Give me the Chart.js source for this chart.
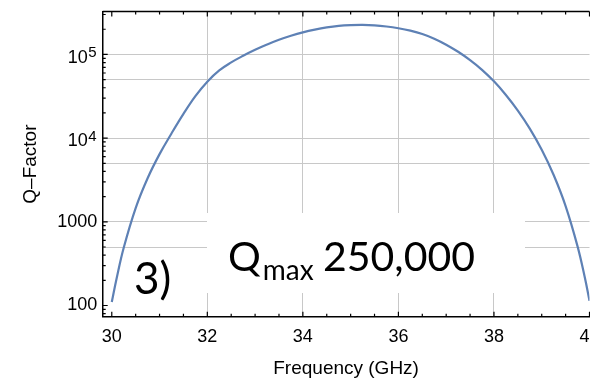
<!DOCTYPE html>
<html>
<head>
<meta charset="utf-8">
<script src="https://cdn.jsdelivr.net/npm/chart.js@4"></script>
<style>
  html, body { margin: 0; padding: 0; background: #fff; }
</style>
</head>
<body>
<canvas id="qChart" width="590" height="383"></canvas>
<script>
// Q-factor vs frequency
const freqs = [30.0, 30.1, 30.25, 30.5, 30.75, 31.0, 31.25, 31.5, 31.75, 32.0,
  32.25, 32.5, 32.75, 33.0, 33.25, 33.5, 33.75, 34.0, 34.25, 34.5, 34.75, 35.0, 35.25,
  35.5, 35.75, 36.0, 36.25, 36.5, 36.75, 37.0, 37.25, 37.5, 37.75, 38.0, 38.25, 38.5,
  38.75, 39.0, 39.25, 39.5, 39.75, 39.9, 40.0];
const qValues = [110, 209, 490, 1462, 3319, 6442, 11376, 19500, 31800, 47315,
  64500, 80350, 96400, 113500, 131200, 149600, 167100, 183700, 198200, 210400, 219300, 223900, 225400,
  222800, 215800, 205600, 192300, 175400, 154200, 130900, 107600, 85500, 65500, 47750, 32810, 21330,
  13000, 7261, 3622, 1542, 509, 219, 114];

// axis ticks / labels
const xTicks = [30, 32, 34, 36, 38, 40];
const xGridAt = [32, 34, 36, 38];
const yTicks = [100, 500, 1000, 5000, 10000, 50000, 100000];
const yTickLabels = ['100', '', '1000', '', '', '', ''];
const yPowerTicks = [10000, 100000];
const yPowerExps = ['4', '5'];
const yGridAt = [500, 1000, 5000, 10000, 50000, 100000];

const lineColor = '#5E81B5';
const gridColor = '#c8c8c8';

// inward tick marks on left, bottom and top frame, plus 10^n labels
const frameTicks = {
  id: 'frameTicks',
  afterDraw(chart) {
    const { ctx, chartArea: a, scales: { x, y } } = chart;
    ctx.save();
    ctx.strokeStyle = '#000';
    ctx.lineWidth = 1.5;
    ctx.beginPath();
    ctx.moveTo(a.left, a.top);
    ctx.lineTo(a.right, a.top);
    ctx.stroke();
    ctx.lineWidth = 1.2;
    ctx.beginPath();
    for (let v = 30; v <= 40; v += 0.5) {
      const px = x.getPixelForValue(v);
      const len = v % 2 === 0 ? 5 : 3;
      ctx.moveTo(px, a.bottom);
      ctx.lineTo(px, a.bottom - len);
      ctx.moveTo(px, a.top);
      ctx.lineTo(px, a.top + len);
    }
    for (let d = 10; d <= 1e5; d *= 10) {
      for (let k = 1; k <= 9; k++) {
        const v = d * k;
        if (v < y.min || v > y.max) continue;
        const py = y.getPixelForValue(v);
        const len = k === 1 ? 5 : 3;
        ctx.moveTo(a.left, py);
        ctx.lineTo(a.left + len, py);
      }
    }
    ctx.stroke();

    // 10^4, 10^5 labels with real superscripts
    ctx.fillStyle = '#000';
    ctx.textAlign = 'right';
    ctx.textBaseline = 'alphabetic';
    yPowerTicks.forEach((v, i) => {
      const py = y.getPixelForValue(v);
      const right = a.left - 6;
      ctx.font = '15px "Liberation Sans"';
      const ew = ctx.measureText(yPowerExps[i]).width;
      ctx.fillText(yPowerExps[i], right, py + 2.8);
      ctx.font = '18px "Liberation Sans"';
      ctx.fillText('10', right - ew - 0.5, py + 8.2);
    });
    ctx.restore();
  }
};

// white label box with annotation text
const labelBox = {
  id: 'labelBox',
  beforeDatasetsDraw(chart) {
    const { ctx } = chart;
    ctx.save();
    ctx.fillStyle = '#fff';
    ctx.fillRect(207, 213, 318, 80);
    ctx.fillStyle = '#000';
    ctx.textBaseline = 'alphabetic';
    ctx.font = '41px Lato';
    ctx.fillText('Q', 228, 271);
    const qw = ctx.measureText('Q').width;
    ctx.font = '28px Lato';
    ctx.fillText('max', 228 + qw + 2, 280);
    ctx.font = '41px Lato';
    ctx.fillText('250,000', 323, 271);
    ctx.font = '44px Lato';
    ctx.fillText('3)', 134, 294);
    ctx.restore();
  }
};

new Chart(document.getElementById('qChart'), {
  type: 'line',
  data: {
    datasets: [{
      data: freqs.map((f, i) => ({ x: f, y: qValues[i] })),
      borderColor: lineColor,
      borderWidth: 2.2,
      pointRadius: 0,
      tension: 0.4,
      fill: false
    }]
  },
  options: {
    responsive: false,
    animation: false,
    layout: { padding: { top: 11.5, right: 0.5, left: 0, bottom: 0 } },
    plugins: { legend: { display: false }, tooltip: { enabled: false } },
    scales: {
      x: {
        type: 'linear',
        min: 29.81,
        max: 40,
        afterBuildTicks: (s) => { s.ticks = xTicks.map(v => ({ value: v })); },
        afterFit: (s) => { s.height = 66.3; s.paddingLeft = 0; s.paddingRight = 0; },
        ticks: {
          autoSkip: false,
          maxRotation: 0,
          padding: 10,
          color: '#000',
          font: { family: 'Liberation Sans', size: 18 },
          callback: (v) => String(v)
        },
        grid: {
          drawTicks: false,
          color: (c) => xGridAt.includes(c.tick && c.tick.value) ? gridColor : 'rgba(0,0,0,0)',
          lineWidth: 1
        },
        border: { display: true, color: '#000', width: 1.5 },
        title: {
          display: true,
          text: 'Frequency (GHz)',
          color: '#000',
          font: { family: 'Liberation Sans', size: 19 },
          padding: { top: 0, bottom: 3 }
        }
      },
      y: {
        type: 'logarithmic',
        min: 73.5,
        max: 326000,
        afterBuildTicks: (s) => { s.ticks = yTicks.map(v => ({ value: v })); },
        afterFit: (s) => { s.width = 102.7; s.paddingTop = 0; s.paddingBottom = 0; },
        ticks: {
          autoSkip: false,
          padding: 5.5,
          color: '#000',
          font: { family: 'Liberation Sans', size: 18 },
          callback: (v) => {
            const i = yTicks.indexOf(v);
            return i >= 0 ? yTickLabels[i] : '';
          }
        },
        grid: {
          drawTicks: false,
          color: (c) => yGridAt.includes(c.tick && c.tick.value) ? gridColor : 'rgba(0,0,0,0)',
          lineWidth: 1
        },
        border: { display: true, color: '#000', width: 1.5 },
        title: {
          display: true,
          text: 'Q\u2013Factor',
          color: '#000',
          font: { family: 'Liberation Sans', size: 19 },
          padding: { top: 19.5, bottom: 0 }
        }
      }
    }
  },
  plugins: [labelBox, frameTicks]
});
</script>
</body>
</html>
